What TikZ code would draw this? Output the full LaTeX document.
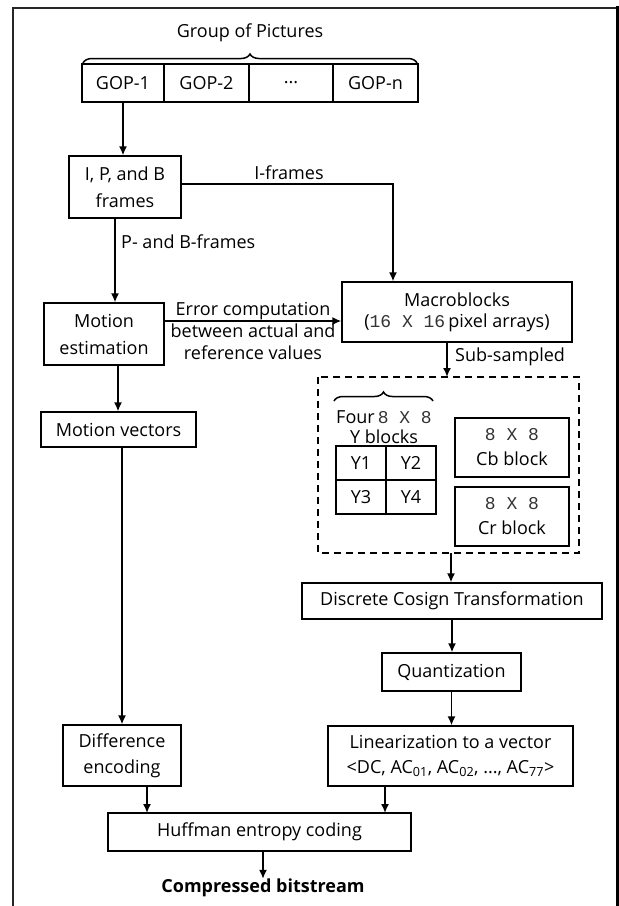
\documentclass[tikz,border=0pt]{standalone}
\usepackage{fontspec}
\setmainfont{Open Sans}
\newfontfamily\monofnt{Liberation Mono}
\usetikzlibrary{arrows.meta,decorations.pathreplacing,calc}
\newcommand{\mono}[1]{{\monofnt\color{black!80}#1}}
\begin{document}
\begin{tikzpicture}[x=1pt,y=-1pt,
  font=\fontsize{18}{24}\selectfont,
  box/.style={draw=black,line width=1.3pt,inner sep=0pt,align=center},
  arr/.style={line width=1.6pt,-{Latex[length=9pt,width=8pt]}},
  lab/.style={inner sep=0pt,align=center},
  brc/.style={line width=1.5pt,decorate,decoration={brace,amplitude=9pt}}]
\useasboundingbox (0,0) rectangle (619,906);
% outer frame
\draw[line width=1.6pt,black!85] (13,912) -- (13,8) -- (617,8);
\draw[line width=3.5pt] (617.5,6.3) -- (617.5,912);
% group of pictures
\node[lab] (gptitle) at (250,33) {Group of Pictures};
\draw[brc] (83,63) -- (417,63);
\node[box,minimum width=82pt,minimum height=38pt] (gop1) at (123,83) {GOP-1};
\node[box,minimum width=85pt,minimum height=38pt] (gop2) at (206.5,83) {GOP-2};
\node[box,minimum width=84pt,minimum height=38pt] (gop3) at (291,83) {...};
\node[box,minimum width=85pt,minimum height=38pt] (gop4) at (375.5,83) {GOP-n};
% left column
\node[box,minimum width=112pt,minimum height=62pt,font=\fontsize{18}{27}\selectfont] (ipb) at (125,187) {I, P, and B\\frames};
\node[box,minimum width=120pt,minimum height=62pt,font=\fontsize{18}{27}\selectfont] (mest) at (104,334) {Motion\\estimation};
\node[box,minimum width=155pt,minimum height=35pt] (mvec) at (118.5,429.5) {Motion vectors};
\node[box,minimum width=118pt,minimum height=61pt,font=\fontsize{18}{26}\selectfont] (diff) at (122,755.5) {Difference\\encoding};
\node[box,minimum width=303pt,minimum height=38pt] (huff) at (259.5,832) {Huffman entropy coding};
\node[lab,font=\fontsize{18}{24}\selectfont\bfseries] (out) at (263,888) {Compressed bitstream};
% right column
\node[box,minimum width=230pt,minimum height=60pt,font=\fontsize{18}{21}\selectfont] (macro) at (457,312) {Macroblocks\\(\mono{16 X 16}\,pixel arrays)};
\draw[line width=1.5pt,dash pattern=on 7pt off 5pt] (318,377) rectangle (579,553);
\coordinate (dtop) at (447,377);
\coordinate (dbot) at (451,553);
\draw[brc] (334,401) -- (433,401);
\node[lab,font=\fontsize{18}{20}\selectfont] (ylab) at (384,427) {Four\,\mono{8 X 8}\\Y blocks};
\node[box,minimum width=50pt,minimum height=34pt] (y1) at (361,463) {Y1};
\node[box,minimum width=50pt,minimum height=34pt] (y2) at (411,463) {Y2};
\node[box,minimum width=50pt,minimum height=34pt] (y3) at (361,497) {Y3};
\node[box,minimum width=50pt,minimum height=34pt] (y4) at (411,497) {Y4};
\node[box,minimum width=114pt,minimum height=59pt,font=\fontsize{18}{25}\selectfont] (cb) at (512,447.5) {\mono{8 X 8}\\Cb block};
\node[box,minimum width=114pt,minimum height=59pt,font=\fontsize{18}{25}\selectfont] (cr) at (512,516.5) {\mono{8 X 8}\\Cr block};
\node[box,minimum width=300pt,minimum height=36pt] (dct) at (452,601) {Discrete Cosign Transformation};
\node[box,minimum width=139pt,minimum height=38pt] (quant) at (451.5,672) {Quantization};
\node[box,minimum width=245pt,minimum height=60pt,font=\fontsize{18}{25}\selectfont] (lin) at (450.5,756) {Linearization to a vector\\<DC, AC\textsubscript{01}, AC\textsubscript{02}, ..., AC\textsubscript{77}>};
% connectors
\draw[arr] (gop1.south) -- (gop1.south |- ipb.north);
\coordinate (ibend) at (393,184);
\draw[arr] (ipb.east |- ibend) -- (ibend) -- (ibend |- macro.north);
\node[lab,anchor=base] (ilab) at (289,179) {I-frames};
\draw[arr] ([xshift=-10pt]ipb.south) -- ([xshift=-10pt]ipb.south |- mest.north);
\node[lab,anchor=west] (pblab) at (121,242) {P- and B-frames};
\draw[arr] ([yshift=13pt]mest.east) -- ([yshift=13pt]mest.east -| macro.west);
\node[lab,font=\fontsize{18}{22}\selectfont] (errlab) at (253,331) {Error computation\\between actual and\\reference values};
\draw[arr] ([xshift=14pt]mest.south) -- ([xshift=14pt]mest.south |- mvec.north);
\draw[arr] (mvec.south -| diff.north) -- (diff.north);
\draw[arr] ($(macro.south)+(-10,0)$) -- (dtop);
\node[lab,anchor=west] (sslab) at (455,357) {Sub-sampled};
\draw[arr] (dbot) -- (dbot |- dct.north);
\draw[arr] (dct.south) -- (dct.south |- quant.north);
\draw[arr] (quant.south) -- (quant.south |- lin.north);
\draw[arr] (147,786) -- (147,813);
\draw[arr] (385,786) -- (385,813);
\draw[arr] (huff.south -| out.north) -- (out.north);
\end{tikzpicture}
\end{document}
